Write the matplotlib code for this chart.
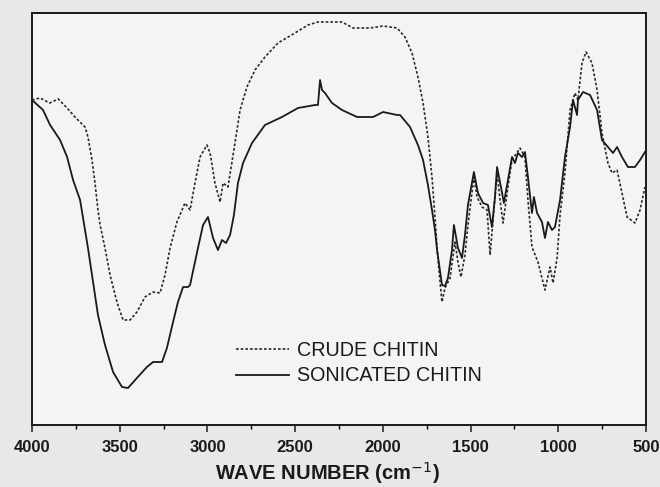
import matplotlib
matplotlib.use("Agg")
import matplotlib.pyplot as plt
from matplotlib.ticker import MultipleLocator

plt.rcParams["font.family"] = ["Liberation Sans", "DejaVu Sans"]

# FTIR spectra (transmittance, arbitrary units)
sonicated_wn = [
    4000, 3937, 3897, 3840, 3800, 3766, 3726, 3709, 3681, 3652, 3624, 3584,
    3538, 3487, 3453, 3402, 3345, 3310, 3259, 3231, 3196, 3168, 3139, 3111,
    3099, 3054, 3025, 2997, 2968, 2940, 2917, 2894, 2871, 2849, 2826, 2797,
    2746, 2672, 2575, 2484, 2387, 2370, 2358, 2347, 2330, 2290, 2233, 2147,
    2056, 1999, 1919, 1902, 1845, 1800, 1771, 1743, 1720, 1703, 1691, 1663,
    1646, 1629, 1606, 1595, 1572, 1549, 1532, 1515, 1481, 1458, 1429, 1401,
    1378, 1361, 1349, 1327, 1310, 1287, 1264, 1247, 1230, 1207, 1190, 1173,
    1150, 1139, 1121, 1093, 1076, 1059, 1036, 1019, 990, 962, 933, 916,
    893, 888, 859, 819, 779, 751, 717, 688, 665, 637, 603, 563, 534, 506,
]
sonicated_t = [
    325, 315, 300, 285, 268, 245, 225, 207, 177, 143, 110, 80,
    53, 38, 37, 47, 58, 63, 63, 77, 103, 123, 138, 138,
    140, 177, 200, 208, 187, 175, 185, 182, 190, 210, 242, 262,
    282, 300, 308, 317, 320, 320, 345, 335, 332, 322, 315, 308,
    308, 313, 310, 310, 298, 280, 265, 240, 215, 195, 175, 140,
    139, 147, 175, 200, 177, 167, 190, 220, 253, 232, 222, 220,
    198, 228, 258, 238, 222, 245, 268, 262, 272, 268, 273, 248,
    212, 228, 212, 203, 187, 203, 195, 198, 225, 268, 298, 325,
    310, 325, 333, 330, 315, 285, 278, 272, 278, 268, 258, 258, 265, 273,
]

crude_wn = [
    4000, 3954, 3900, 3850, 3800, 3755, 3698, 3681, 3658, 3641, 3624, 3612,
    3584, 3555, 3516, 3481, 3441, 3402, 3356, 3310, 3270, 3242, 3213, 3174,
    3128, 3099, 3071, 3042, 3003, 2985, 2957, 2928, 2911, 2883, 2843, 2814,
    2775, 2729, 2672, 2598, 2501, 2427, 2370, 2290, 2233, 2170, 2073, 1999,
    1919, 1874, 1834, 1800, 1771, 1743, 1720, 1703, 1691, 1674, 1663, 1646,
    1617, 1589, 1572, 1555, 1532, 1515, 1481, 1463, 1435, 1406, 1389, 1349,
    1332, 1315, 1287, 1264, 1218, 1190, 1173, 1150, 1116, 1076, 1047, 1030,
    1007, 990, 962, 933, 905, 888, 865, 842, 808, 779, 751, 717,
    694, 665, 637, 608, 563, 534, 506,
]
crude_t = [
    325, 327, 322, 326, 317, 308, 298, 288, 265, 242, 215, 200,
    177, 150, 123, 105, 105, 113, 128, 133, 132, 150, 177, 203,
    222, 215, 242, 268, 280, 272, 242, 223, 242, 238, 282, 315,
    338, 355, 368, 382, 392, 400, 403, 403, 403, 397, 397, 399,
    397, 388, 372, 348, 322, 288, 248, 208, 177, 143, 123, 137,
    147, 183, 163, 148, 170, 200, 248, 228, 218, 215, 170, 252,
    225, 202, 238, 265, 277, 268, 225, 178, 163, 135, 158, 142,
    167, 210, 252, 315, 332, 325, 362, 373, 362, 335, 292, 262,
    252, 255, 232, 208, 202, 215, 238,
]

fig = plt.figure(figsize=(6.6, 4.87), dpi=100, facecolor="#e8e8e8")
ax = fig.add_axes([0.0485, 0.1273, 0.9303, 0.8460], facecolor="#f4f4f4")

ax.plot(crude_wn, crude_t, color="#2a2a2a", lw=1.2,
        linestyle=(0, (1.6, 1.2)), label="CRUDE CHITIN")
ax.plot(sonicated_wn, sonicated_t, color="#1a1a1a", lw=1.3,
        label="SONICATED CHITIN")

ax.set_xlim(4000, 500)
ax.set_ylim(0, 412)
ax.xaxis.set_major_locator(MultipleLocator(500))
ax.xaxis.set_minor_locator(MultipleLocator(250))
ax.tick_params(axis="x", which="major", direction="out", length=5,
               width=1.1, labelsize=12, pad=6, colors="#1a1a1a")
ax.tick_params(axis="x", which="minor", direction="out", length=3, width=1.0)
for lbl in ax.get_xticklabels():
    lbl.set_fontweight("bold")
ax.set_yticks([])
for s in ax.spines.values():
    s.set_linewidth(1.4)
    s.set_color("#1a1a1a")

ax.set_xlabel("WAVE NUMBER (cm$^{-1}$)", fontsize=14.5, fontweight="bold",
              color="#1a1a1a")
ax.xaxis.set_label_coords(0.482, -0.085)

leg = ax.legend(loc="upper left", bbox_to_anchor=(0.332, 0.205), frameon=False,
                fontsize=14.2, handlelength=2.7, handletextpad=0.4,
                labelspacing=0.35, borderpad=0, borderaxespad=0)
for t in leg.get_texts():
    t.set_color("#1a1a1a")

fig.savefig("out.png", dpi=100, facecolor=fig.get_facecolor())
